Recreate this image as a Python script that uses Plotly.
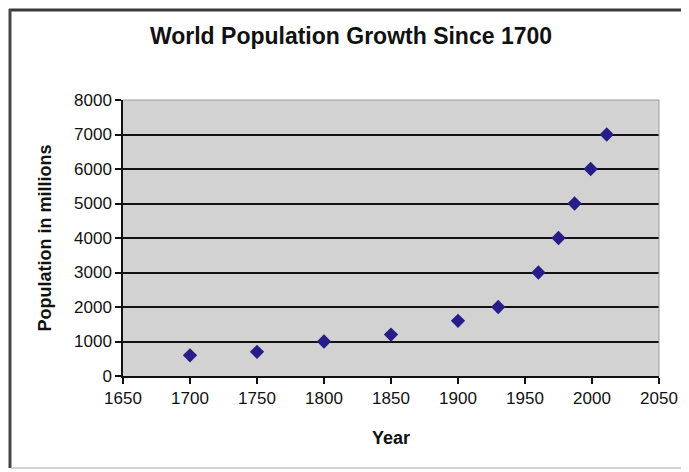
import plotly.graph_objects as go

years = [1700, 1750, 1800, 1850, 1900, 1930, 1960, 1975, 1987, 1999, 2011]
population = [600, 700, 1000, 1200, 1600, 2000, 3000, 4000, 5000, 6000, 7000]
x_ticks = [1650, 1700, 1750, 1800, 1850, 1900, 1950, 2000, 2050]
y_ticks = [0, 1000, 2000, 3000, 4000, 5000, 6000, 7000, 8000]

fig = go.Figure()
fig.add_trace(go.Scatter(
    x=years, y=population, mode="markers",
    marker=dict(symbol="diamond", size=11, color="#261d88",
                line=dict(width=0)),
    showlegend=False,
))

# the page body keeps its default 8px margin, so the figure is sized to fill
# the rest of the 689x472 window
OFF = 8
W, H = 689 - OFF, 472 - OFF
L, T = 123 - OFF, 100 - OFF
R = W - (659 - OFF)
B = H - (376 - OFF)
pw, ph = W - L - R, H - T - B

def px(xp):
    return (xp - OFF - L) / pw

def py(yp):
    return (H - B - (yp - OFF)) / ph

font_family = "Liberation Sans, Arial, sans-serif"

fig.update_layout(
    width=W, height=H,
    margin=dict(l=L, r=R, t=T, b=B, pad=0),
    paper_bgcolor="white",
    plot_bgcolor="#d2d2d2",
    font=dict(family=font_family, color="#111111", size=17),
    title=dict(text="<b>World Population Growth Since 1700</b>",
               x=(351 - OFF) / W, xanchor="center", y=1 - (36 - OFF) / H, yanchor="middle",
               font=dict(size=23, family=font_family, color="#111111")),
    xaxis=dict(
        range=[1650, 2050], tickvals=x_ticks, ticktext=[str(v) for v in x_ticks],
        showgrid=False, zeroline=False,
        showline=True, linecolor="#111111", linewidth=1.5,
        ticks="outside", ticklen=6, tickcolor="#111111", tickwidth=1.5,
        tickfont=dict(size=17, family=font_family),
        title=dict(text="<b>Year</b>", font=dict(size=18, family=font_family), standoff=24),
    ),
    yaxis=dict(
        range=[0, 8000], tickvals=y_ticks, ticktext=[str(v) for v in y_ticks],
        showgrid=True, gridcolor="#111111", gridwidth=1.5, zeroline=False,
        showline=True, linecolor="#111111", linewidth=1.5,
        ticks="outside", ticklen=6, tickcolor="#111111", tickwidth=1.5,
        tickfont=dict(size=17, family=font_family),
        title=dict(text="<b>Population in millions</b>", font=dict(size=18, family=font_family), standoff=18),
    ),
)

# plot-area border (top/right) in light gray
fig.add_shape(type="line", xref="paper", yref="paper", x0=0, x1=1, y0=1, y1=1,
              line=dict(color="#9a9a9a", width=1))
fig.add_shape(type="line", xref="paper", yref="paper", x0=1, x1=1, y0=0, y1=1,
              line=dict(color="#9a9a9a", width=1))

# outer chart frame: top, left (dark) and bottom (light)
fig.add_shape(type="line", xref="paper", yref="paper",
              x0=px(9), x1=px(700), y0=py(10), y1=py(10),
              line=dict(color="#3a3a3a", width=3), layer="above")
fig.add_shape(type="line", xref="paper", yref="paper",
              x0=px(10), x1=px(10), y0=py(9), y1=py(468),
              line=dict(color="#444444", width=3), layer="above")
fig.add_shape(type="line", xref="paper", yref="paper",
              x0=px(11), x1=px(700), y0=py(468), y1=py(468),
              line=dict(color="#c4c4c4", width=1.5))

fig.write_html("out.html", config={"displayModeBar": False})
